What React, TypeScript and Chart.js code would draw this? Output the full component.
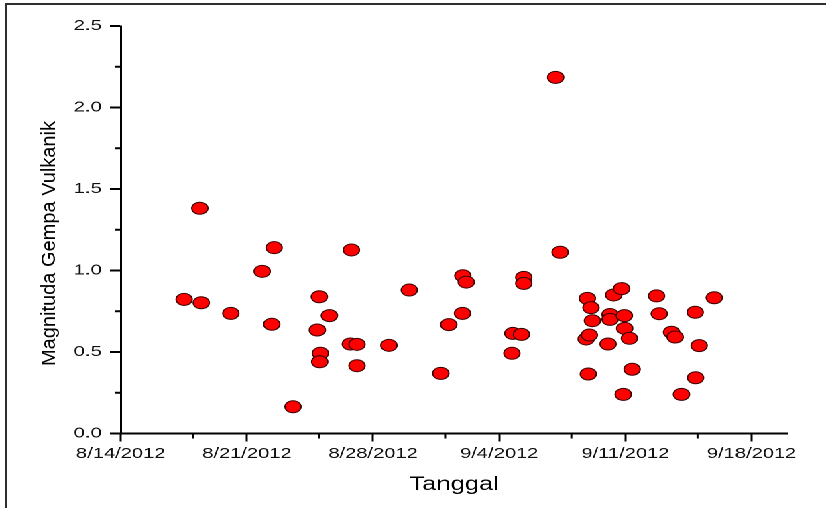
import React, { useEffect, useRef } from "react";
import { Chart, registerables } from "chart.js";

Chart.register(...registerables);

// Days since 8/14/2012
const dayOffsets = [
  3.52, 4.39, 4.47, 6.11, 7.85, 8.51, 8.38, 9.56, 11.02, 10.91, 11.08, 11.04, 11.58, 12.8,
  12.74, 13.11, 13.11, 14.88, 16.01, 17.76, 18.2, 18.96, 18.98, 19.17, 21.7, 21.75, 22.23,
  22.36, 22.36, 24.13, 24.38, 25.89, 26.09, 26.17, 25.82, 26.0, 25.94, 27.04, 27.15, 27.15,
  27.35, 27.79, 27.94, 27.96, 28.22, 28.37, 27.88, 29.73, 29.88, 30.56, 30.76, 31.11, 31.87,
  31.89, 32.09, 32.93,
];
const magnitudes = [
  0.823, 1.382, 0.802, 0.737, 0.995, 1.14, 0.67, 0.164, 0.839, 0.635, 0.492, 0.44, 0.723, 1.126,
  0.549, 0.547, 0.416, 0.541, 0.88, 0.369, 0.668, 0.737, 0.968, 0.929, 0.492, 0.614, 0.608,
  0.958, 0.921, 2.185, 1.112, 0.829, 0.772, 0.692, 0.58, 0.604, 0.365, 0.549, 0.73, 0.7,
  0.85, 0.889, 0.723, 0.645, 0.584, 0.394, 0.24, 0.844, 0.735, 0.621, 0.592, 0.24, 0.744,
  0.342, 0.539, 0.833,
];

const xTickDays = [0, 7, 14, 21, 28, 35];
const xTickLabels = ["8/14/2012", "8/21/2012", "8/28/2012", "9/4/2012", "9/11/2012", "9/18/2012"];
const xMinorDays = [4, 11, 18, 25, 32];
const yTickValues = [0, 0.5, 1.0, 1.5, 2.0, 2.5];
const yMinorValues = [0.25, 0.75, 1.25, 1.75, 2.25];

const xTitle = "Tanggal";
const yTitle = "Magnituda Gempa Vulkanik";

const CANVAS_W = 616;
const CANVAS_H = 508;
const STRETCH = 826 / CANVAS_W;
const FONT = "'Liberation Sans', Arial, Helvetica, sans-serif";

const extrasPlugin = {
  id: "extras",
  afterDraw(chart: any) {
    const ctx = chart.ctx;
    const xs = chart.scales.x;
    const ys = chart.scales.y;
    const area = chart.chartArea;
    ctx.save();
    ctx.strokeStyle = "#000";
    // minor x ticks
    ctx.lineWidth = 1.5;
    xMinorDays.forEach((d) => {
      const px = xs.getPixelForValue(d);
      ctx.beginPath();
      ctx.moveTo(px, area.bottom);
      ctx.lineTo(px, area.bottom + 5);
      ctx.stroke();
    });
    // minor y ticks
    ctx.lineWidth = 2;
    yMinorValues.forEach((v) => {
      const py = ys.getPixelForValue(v);
      ctx.beginPath();
      ctx.moveTo(area.left - 4.2, py);
      ctx.lineTo(area.left, py);
      ctx.stroke();
    });
    ctx.restore();

    // y axis title (compensating the horizontal stretch)
    ctx.save();
    ctx.translate(55 / STRETCH, 243.5);
    ctx.scale(1 / STRETCH, 1);
    ctx.rotate(-Math.PI / 2);
    ctx.font = `20px ${FONT}`;
    ctx.fillStyle = "#000";
    ctx.textAlign = "center";
    ctx.textBaseline = "alphabetic";
    ctx.fillText(yTitle, 0, 0);
    ctx.restore();
  },
};

export default function App() {
  const canvasRef = useRef<HTMLCanvasElement | null>(null);

  useEffect(() => {
    if (!canvasRef.current) return;
    const points = dayOffsets.map((d, i) => ({ x: d, y: magnitudes[i] }));
    const chart = new Chart(canvasRef.current, {
      type: "scatter",
      data: {
        datasets: [
          {
            data: points,
            backgroundColor: "#ff0000",
            borderColor: "#3a0000",
            borderWidth: 1,
            pointRadius: 6,
            pointHoverRadius: 6,
          },
        ],
      },
      plugins: [extrasPlugin],
      options: {
        animation: false,
        responsive: false,
        devicePixelRatio: 2,
        events: [],
        layout: { padding: { left: 0, top: 26, right: 28.6, bottom: 0 } },
        plugins: { legend: { display: false }, tooltip: { enabled: false } },
        scales: {
          x: {
            type: "linear",
            min: 0,
            max: 37,
            bounds: "data",
            afterBuildTicks: (scale: any) => {
              scale.ticks = xTickDays.map((v) => ({ value: v }));
            },
            afterFit: (scale: any) => {
              scale.height = 74.5;
            },
            grid: {
              display: true,
              drawOnChartArea: false,
              drawTicks: true,
              tickLength: 8,
              tickColor: "#000",
              tickWidth: 1.5,
            },
            border: { display: true, color: "#000", width: 2 },
            ticks: {
              autoSkip: false,
              maxRotation: 0,
              padding: 3.4,
              color: "#111",
              font: { family: FONT, size: 15 },
              callback: (_v: any, i: number) => xTickLabels[i],
            },
            title: {
              display: true,
              text: xTitle,
              color: "#000",
              font: { family: FONT, size: 19 },
              padding: { top: 0, bottom: 11.6 },
            },
          },
          y: {
            type: "linear",
            min: 0,
            max: 2.5,
            bounds: "data",
            afterBuildTicks: (scale: any) => {
              scale.ticks = yTickValues.map((v) => ({ value: v }));
            },
            afterFit: (scale: any) => {
              scale.width = 90;
            },
            grid: {
              display: true,
              drawOnChartArea: false,
              drawTicks: true,
              tickLength: 8,
              tickColor: "#000",
              tickWidth: 2,
            },
            border: { display: true, color: "#000", width: 1.5 },
            ticks: {
              padding: 6.2,
              color: "#111",
              font: { family: FONT, size: 15 },
              callback: (v: any) => Number(v).toFixed(1),
            },
            title: { display: false },
          },
        },
      },
    } as any);
    return () => chart.destroy();
  }, []);

  return (
    <>
      <div
        style={{
          position: "fixed",
          left: 0,
          top: 0,
          width: CANVAS_W,
          height: CANVAS_H,
          transform: `scaleX(${STRETCH})`,
          transformOrigin: "0 0",
          background: "#fff",
        }}
      >
        <canvas ref={canvasRef} width={CANVAS_W} height={CANVAS_H} style={{ display: "block" }} />
      </div>
      <div
        style={{
          position: "fixed",
          left: 5,
          top: 3,
          width: 821,
          height: 505,
          borderTop: "2px solid #2e2e2e",
          borderLeft: "2px solid #2e2e2e",
          pointerEvents: "none",
        }}
      />
    </>
  );
}
